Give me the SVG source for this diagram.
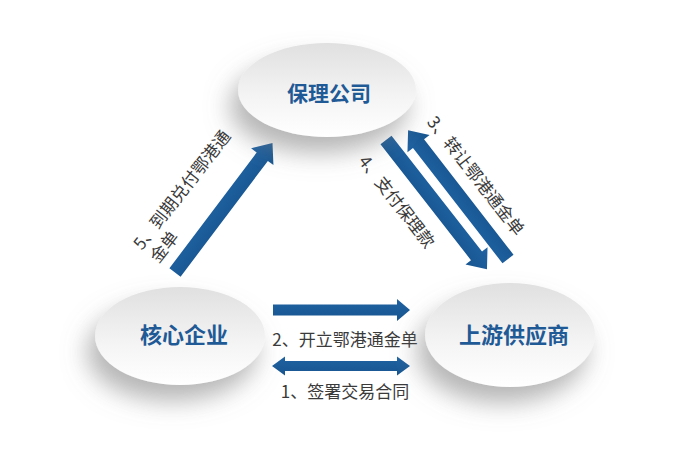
<svg xmlns="http://www.w3.org/2000/svg" width="675" height="454" viewBox="0 0 675 454">
<style>
.node-label{font-family:"Noto Sans CJK SC","Noto Sans",sans-serif;font-weight:bold;fill:#1F5A96;text-anchor:middle}
.edge-label{font-family:"Noto Sans CJK SC","Noto Sans",sans-serif;font-size:17px;fill:#3a3a3a}
.arrow{fill:url(#arrowGrad)}
.ell{fill:url(#ellGrad);filter:url(#shadow)}
</style>
<defs>
<linearGradient id="ellGrad" x1="0" y1="0" x2="0" y2="1">
<stop offset="0" stop-color="#e0e0e0"/>
<stop offset="0.6" stop-color="#f5f5f5"/>
<stop offset="1" stop-color="#ffffff"/>
</linearGradient>
<linearGradient id="arrowGrad" x1="0" y1="0" x2="0" y2="1">
<stop offset="0" stop-color="#1f62a3"/>
<stop offset="1" stop-color="#17558f"/>
</linearGradient>
<filter id="shadow" x="-50%" y="-50%" width="200%" height="220%">
<feGaussianBlur in="SourceAlpha" stdDeviation="12"/>
<feOffset dx="-8" dy="16" result="b"/>
<feFlood flood-color="#7a7a7a" flood-opacity="0.55"/>
<feComposite in2="b" operator="in"/>
<feMerge><feMergeNode/><feMergeNode in="SourceGraphic"/></feMerge>
</filter>
</defs>
<rect width="675" height="454" fill="#ffffff"/>

<g id="connectors">
<path class="arrow" transform="translate(175,272.5) rotate(-53)" d="M0,-7 L145,-7 L145,-14 L162,0 L145,14 L145,7 L0,7 Z"/>
<path class="arrow" transform="translate(386,140) rotate(52)" d="M0,-7 L147,-7 L147,-14 L164,0 L147,14 L147,7 L0,7 Z"/>
<path class="arrow" transform="translate(508,259) rotate(-127.8)" d="M0,-7 L146,-7 L146,-14 L163,0 L146,14 L146,7 L0,7 Z"/>
<path class="arrow" transform="translate(273,310)" d="M0,-5.5 L124,-5.5 L124,-11 L137,0 L124,11 L124,5.5 L0,5.5 Z"/>
<path class="arrow" transform="translate(272,366)" d="M0,0 L13,-9.5 L13,-5 L125,-5 L125,-9.5 L138,0 L125,9.5 L125,5 L13,5 L13,9.5 Z"/>
<text class="edge-label" x="345" y="346" text-anchor="middle">2、开立鄂港通金单</text>
<text class="edge-label" x="345" y="398" text-anchor="middle">1、签署交易合同</text>
<text class="edge-label" transform="translate(471,179.5) rotate(52)" text-anchor="middle">3、转让鄂港通金单</text>
<text class="edge-label" transform="translate(392,205.5) rotate(52)" text-anchor="middle">4、支付保理款</text>
<text class="edge-label" transform="translate(142,251) rotate(-52)"><tspan x="0" y="0">5、到期兑付鄂港通</tspan><tspan x="0" dy="21">金单</tspan></text>
</g>

<g id="node-factoring">
<ellipse class="ell" cx="327" cy="90" rx="89" ry="47"/>
<text class="node-label" x="329" y="101" font-size="21">保理公司</text>
</g>
<g id="node-core">
<ellipse class="ell" cx="180" cy="336" rx="85" ry="49"/>
<text class="node-label" x="184" y="343" font-size="22">核心企业</text>
</g>
<g id="node-supplier">
<ellipse class="ell" cx="510" cy="335" rx="85" ry="52"/>
<text class="node-label" x="514" y="343" font-size="22">上游供应商</text>
</g>
</svg>
